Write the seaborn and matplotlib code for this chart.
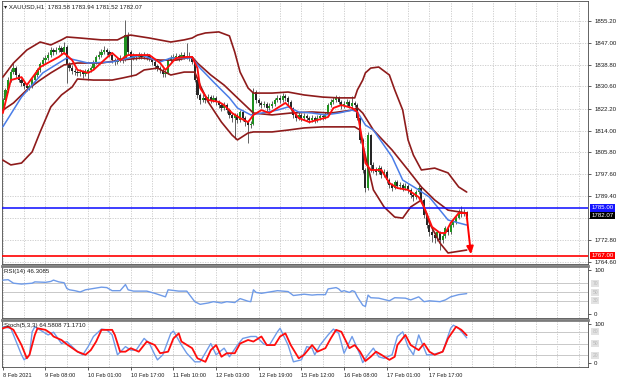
import numpy as np
import pandas as pd
import seaborn as sns
import matplotlib.pyplot as plt
import matplotlib.transforms as mtransforms

# XAUUSD H1 candles (bar 0 = 8 Feb 2021 afternoon)
opens = [1822.0, 1825.5, 1829.3, 1833.0, 1836.0, 1837.5, 1834.9, 1833.0, 1831.9, 1830.8,
         1830.0, 1830.8, 1833.0, 1834.9, 1836.8, 1839.0, 1840.5, 1841.3, 1842.4, 1844.3,
         1843.5, 1844.3, 1845.0, 1843.5, 1845.4, 1838.7, 1837.5, 1836.3, 1836.0, 1835.7,
         1836.0, 1835.3, 1836.0, 1836.8, 1837.5, 1839.8, 1841.7, 1842.4, 1843.5, 1844.3,
         1843.5, 1842.4, 1840.5, 1839.8, 1840.5, 1841.3, 1840.5, 1849.9, 1843.5, 1841.3,
         1842.0, 1841.7, 1842.4, 1841.7, 1842.4, 1842.0, 1841.3, 1839.8, 1838.3, 1837.5,
         1836.8, 1835.3, 1835.7, 1840.5, 1841.3, 1841.7, 1842.0, 1841.3, 1842.4, 1841.7,
         1842.0, 1841.3, 1839.8, 1833.0, 1827.4, 1825.5, 1826.3, 1825.5, 1826.6, 1825.5,
         1826.3, 1824.8, 1823.6, 1822.5, 1823.6, 1821.7, 1819.9, 1818.7, 1819.9, 1818.0,
         1821.0, 1818.7, 1817.2, 1816.1, 1816.5, 1828.5, 1825.5, 1824.4, 1823.6, 1824.0,
         1822.5, 1823.2, 1824.0, 1825.5, 1826.3, 1825.5, 1827.0, 1826.3, 1824.8, 1822.5,
         1819.9, 1818.7, 1819.9, 1818.7, 1819.5, 1818.7, 1818.0, 1818.7, 1818.0, 1818.7,
         1819.5, 1819.1, 1819.9, 1823.6, 1824.8, 1825.5, 1826.3, 1824.8, 1823.2, 1824.0,
         1824.8, 1823.2, 1824.4, 1823.6, 1818.7, 1810.5, 1799.2, 1792.4, 1812.3, 1801.1,
         1799.2, 1798.4, 1799.9, 1797.3, 1798.4, 1795.4, 1793.5, 1792.4, 1794.7, 1793.2,
         1793.5, 1792.4, 1793.2, 1791.7, 1789.8, 1789.0, 1790.9, 1792.4, 1787.9, 1782.3,
         1778.5, 1775.9, 1774.7, 1773.6, 1775.9, 1772.9, 1774.4, 1777.4, 1775.9, 1778.5,
         1779.6, 1781.1, 1783.4, 1782.6, 1783.58]
highs = [1826.3, 1830.1, 1834.0, 1837.2, 1839.6, 1838.3, 1835.8, 1833.9, 1832.7, 1831.6,
         1831.7, 1833.8, 1835.9, 1837.6, 1839.9, 1841.6, 1842.5, 1843.5, 1845.5, 1845.2,
         1845.6, 1846.2, 1845.8, 1847.4, 1846.0, 1839.8, 1838.6, 1837.4, 1836.9, 1837.1,
         1836.8, 1837.0, 1837.7, 1838.4, 1840.6, 1842.6, 1843.8, 1844.6, 1845.7, 1845.1,
         1844.2, 1842.9, 1841.4, 1841.4, 1842.3, 1842.0, 1855.5, 1851.0, 1844.4, 1843.0,
         1842.9, 1843.6, 1843.3, 1843.5, 1843.2, 1842.8, 1842.0, 1840.5, 1839.2, 1838.4,
         1837.5, 1836.8, 1841.2, 1842.4, 1842.9, 1843.3, 1842.9, 1843.6, 1843.4, 1846.9,
         1843.4, 1842.1, 1840.3, 1833.6, 1828.3, 1827.6, 1827.3, 1827.8, 1827.4, 1827.5,
         1826.9, 1825.5, 1824.4, 1824.6, 1824.3, 1822.4, 1820.6, 1820.8, 1820.7, 1821.9,
         1821.6, 1819.5, 1818.0, 1817.6, 1830.0, 1829.2, 1826.4, 1825.3, 1825.1, 1824.8,
         1824.3, 1825.0, 1826.4, 1827.5, 1827.2, 1828.3, 1827.9, 1826.9, 1825.4, 1823.0,
         1820.8, 1820.9, 1820.6, 1820.5, 1820.3, 1819.6, 1819.7, 1819.4, 1819.8, 1820.4,
         1820.2, 1820.9, 1824.5, 1826.0, 1826.7, 1827.3, 1826.9, 1825.4, 1825.1, 1825.9,
         1825.4, 1826.9, 1825.3, 1824.2, 1819.3, 1811.3, 1800.0, 1813.6, 1812.9, 1802.3,
         1800.5, 1801.0, 1800.6, 1799.5, 1799.0, 1796.2, 1794.3, 1795.6, 1795.5, 1794.6,
         1794.2, 1794.3, 1793.9, 1792.5, 1790.7, 1791.8, 1793.6, 1793.0, 1788.5, 1783.1,
         1779.4, 1777.0, 1775.8, 1776.8, 1776.4, 1775.4, 1778.3, 1778.0, 1779.4, 1780.7,
         1782.3, 1784.5, 1785.5, 1784.6, 1783.94]
lows = [1821.2, 1825.0, 1828.6, 1832.1, 1835.2, 1833.8, 1832.2, 1830.8, 1829.6, 1829.0,
        1829.3, 1830.2, 1832.4, 1834.1, 1836.0, 1838.2, 1839.6, 1840.4, 1841.8, 1842.6,
        1842.8, 1843.4, 1842.7, 1842.9, 1832.0, 1836.4, 1835.4, 1834.9, 1834.5, 1834.6,
        1833.9, 1834.6, 1832.9, 1835.9, 1837.0, 1839.1, 1841.0, 1841.6, 1842.7, 1842.6,
        1841.5, 1839.6, 1838.8, 1839.0, 1839.8, 1839.5, 1840.0, 1842.6, 1834.1, 1840.4,
        1840.6, 1840.9, 1840.8, 1840.9, 1840.7, 1840.2, 1838.8, 1837.2, 1836.5, 1835.7,
        1834.3, 1834.2, 1835.2, 1839.8, 1840.6, 1840.9, 1840.2, 1840.7, 1840.8, 1841.0,
        1840.3, 1838.9, 1832.2, 1826.3, 1824.0, 1824.7, 1824.4, 1824.8, 1824.5, 1824.6,
        1823.7, 1822.6, 1821.3, 1821.8, 1820.6, 1818.7, 1817.4, 1811.0, 1816.9, 1817.3,
        1817.6, 1815.9, 1809.5, 1815.0, 1816.0, 1824.4, 1823.3, 1822.4, 1822.7, 1821.3,
        1821.6, 1822.4, 1823.3, 1824.7, 1824.4, 1824.9, 1825.2, 1823.8, 1821.5, 1818.6,
        1817.5, 1818.0, 1817.6, 1817.8, 1817.6, 1816.8, 1817.1, 1816.9, 1817.2, 1817.9,
        1818.1, 1818.3, 1819.4, 1823.0, 1824.0, 1824.8, 1823.9, 1822.3, 1822.5, 1823.2,
        1822.4, 1822.6, 1822.8, 1817.8, 1809.3, 1798.0, 1791.0, 1791.8, 1798.4, 1798.0,
        1797.2, 1797.5, 1796.3, 1796.5, 1794.3, 1792.4, 1791.2, 1791.9, 1792.3, 1792.2,
        1791.3, 1791.5, 1790.6, 1788.7, 1787.6, 1788.3, 1790.2, 1786.8, 1781.0, 1777.2,
        1774.4, 1772.2, 1771.6, 1772.5, 1769.1, 1771.6, 1773.8, 1774.8, 1775.3, 1777.8,
        1778.9, 1780.6, 1781.7, 1781.9, 1781.52]
closes = [1825.5, 1829.3, 1833.0, 1836.0, 1837.5, 1834.9, 1833.0, 1831.9, 1830.8, 1830.0,
          1830.8, 1833.0, 1834.9, 1836.8, 1839.0, 1840.5, 1841.3, 1842.4, 1844.3, 1843.5,
          1844.3, 1845.0, 1843.5, 1845.4, 1838.7, 1837.5, 1836.3, 1836.0, 1835.7, 1836.0,
          1835.3, 1836.0, 1836.8, 1837.5, 1839.8, 1841.7, 1842.4, 1843.5, 1844.3, 1843.5,
          1842.4, 1840.5, 1839.8, 1840.5, 1841.3, 1840.5, 1849.9, 1843.5, 1841.3, 1842.0,
          1841.7, 1842.4, 1841.7, 1842.4, 1842.0, 1841.3, 1839.8, 1838.3, 1837.5, 1836.8,
          1835.3, 1835.7, 1840.5, 1841.3, 1841.7, 1842.0, 1841.3, 1842.4, 1841.7, 1842.0,
          1841.3, 1839.8, 1833.0, 1827.4, 1825.5, 1826.3, 1825.5, 1826.6, 1825.5, 1826.3,
          1824.8, 1823.6, 1822.5, 1823.6, 1821.7, 1819.9, 1818.7, 1819.9, 1818.0, 1821.0,
          1818.7, 1817.2, 1816.1, 1816.5, 1828.5, 1825.5, 1824.4, 1823.6, 1824.0, 1822.5,
          1823.2, 1824.0, 1825.5, 1826.3, 1825.5, 1827.0, 1826.3, 1824.8, 1822.5, 1819.9,
          1818.7, 1819.9, 1818.7, 1819.5, 1818.7, 1818.0, 1818.7, 1818.0, 1818.7, 1819.5,
          1819.1, 1819.9, 1823.6, 1824.8, 1825.5, 1826.3, 1824.8, 1823.2, 1824.0, 1824.8,
          1823.2, 1824.4, 1823.6, 1818.7, 1810.5, 1799.2, 1792.4, 1812.3, 1801.1, 1799.2,
          1798.4, 1799.9, 1797.3, 1798.4, 1795.4, 1793.5, 1792.4, 1794.7, 1793.2, 1793.5,
          1792.4, 1793.2, 1791.7, 1789.8, 1789.0, 1790.9, 1792.4, 1787.9, 1782.3, 1778.5,
          1775.9, 1774.7, 1773.6, 1775.9, 1772.9, 1774.4, 1777.4, 1775.9, 1778.5, 1779.6,
          1781.1, 1783.4, 1782.6, 1783.58, 1782.07]

# Bollinger bands (dark red), read at the bars where they bend
bb_up_bar = [0, 4, 9, 14, 18, 22, 24, 29, 37, 43, 46, 48, 55, 63, 68, 71, 73, 76, 81, 85,
             87, 89, 92, 94, 101, 107, 113, 120, 126, 132, 133, 135, 136, 138, 141, 145, 147,
             150, 152, 154, 157, 162, 167, 171, 174]
bb_up = [1834.1, 1839.4, 1844.3, 1847.3, 1846.2, 1848.1, 1849.2, 1848.8, 1848.1, 1848.1,
         1849.6, 1849.9, 1848.8, 1847.3, 1848.1, 1848.8, 1849.9, 1850.7, 1851.1, 1849.6,
         1843.5, 1836.0, 1830.0, 1828.1, 1828.1, 1828.5, 1827.4, 1826.6, 1826.3, 1826.3,
         1829.3, 1833.0, 1835.7, 1837.5, 1837.9, 1834.9, 1829.3, 1821.7, 1810.5, 1804.8,
         1799.2, 1799.9, 1798.1, 1792.8, 1790.9]
bb_mid_bar = [0, 4, 9, 14, 18, 23, 28, 37, 44, 52, 59, 65, 71, 73, 78, 83, 88, 92, 94, 101,
              108, 116, 123, 131, 133, 135, 139, 146, 152, 157, 162, 167, 174]
bb_mid = [1821.7, 1824.4, 1829.3, 1833.0, 1835.7, 1838.7, 1839.4, 1839.4, 1840.5, 1841.3,
          1840.5, 1840.5, 1841.7, 1839.4, 1834.9, 1831.1, 1826.3, 1822.5, 1820.6, 1819.9,
          1820.6, 1821.0, 1820.6, 1821.7, 1822.5, 1820.6, 1814.2, 1806.7, 1799.2, 1792.8,
          1787.9, 1784.1, 1783.0]
bb_lo_bar = [0, 3, 7, 11, 14, 18, 22, 26, 28, 34, 41, 45, 50, 53, 58, 63, 68, 72, 74, 77,
             82, 86, 88, 92, 94, 101, 107, 113, 120, 126, 132, 134, 135, 137, 139, 143, 147,
             150, 153, 157, 160, 164, 167, 174]
bb_lo = [1802.9, 1801.1, 1801.8, 1806.0, 1813.5, 1822.9, 1827.4, 1830.4, 1833.4, 1833.0,
         1833.0, 1833.8, 1834.9, 1836.8, 1837.5, 1834.9, 1836.0, 1836.0, 1831.1, 1824.8,
         1817.2, 1812.3, 1810.5, 1813.1, 1813.5, 1813.5, 1814.2, 1815.0, 1815.4, 1815.4,
         1815.4, 1814.2, 1808.6, 1800.3, 1791.7, 1785.3, 1781.5, 1781.1, 1785.3, 1787.9,
         1779.3, 1771.7, 1768.0, 1769.1]

# moving averages
ma_slow_bar = [0, 7, 15, 24, 32, 41, 52, 59, 63, 71, 74, 79, 85, 88, 93, 97, 103, 107, 111,
               116, 121, 126, 131, 133, 136, 139, 146, 150, 156, 160, 167, 171, 174]
ma_slow = [1815.4, 1826.6, 1835.7, 1841.3, 1839.4, 1839.8, 1842.4, 1839.8, 1841.3, 1841.3,
           1837.5, 1832.3, 1826.3, 1822.5, 1819.9, 1820.6, 1821.7, 1822.9, 1821.0, 1820.6,
           1819.9, 1820.6, 1821.7, 1821.0, 1816.1, 1814.2, 1804.1, 1795.4, 1791.7, 1789.0,
           1780.4, 1779.3, 1778.5]
ma_fast_bar = [0, 3, 7, 9, 14, 21, 23, 26, 28, 32, 34, 38, 41, 44, 47, 49, 55, 59, 61, 65,
               69, 71, 73, 74, 77, 81, 83, 86, 89, 92, 94, 97, 100, 103, 106, 108, 111, 115,
               118, 122, 124, 127, 131, 133, 135, 136, 138, 142, 145, 148, 152, 156, 158,
               161, 164, 166, 168, 171, 174]
ma_fast = [1820.6, 1833.0, 1834.1, 1831.1, 1837.9, 1841.7, 1843.2, 1840.5, 1836.8, 1835.7,
           1836.8, 1840.5, 1843.2, 1840.5, 1842.4, 1842.4, 1842.4, 1839.4, 1836.8, 1841.3,
           1841.7, 1841.7, 1837.5, 1830.0, 1825.5, 1824.8, 1823.6, 1820.6, 1818.7, 1817.2,
           1819.9, 1821.7, 1820.6, 1822.5, 1824.4, 1822.5, 1818.7, 1817.2, 1818.0, 1819.1,
           1822.5, 1823.6, 1822.5, 1821.0, 1809.3, 1801.8, 1799.2, 1799.2, 1794.3, 1792.4,
           1791.7, 1789.0, 1785.3, 1777.8, 1775.5, 1775.5, 1779.3, 1783.0, 1783.0]

# RSI(14)
rsi_bar = [0, 2, 4, 7, 11, 12, 16, 18, 19, 21, 23, 24, 25, 27, 29, 31, 34, 37, 39, 41,
           44, 46, 47, 49, 54, 57, 61, 62, 66, 69, 72, 74, 77, 79, 82, 84, 87, 89, 92, 93,
           94, 95, 97, 99, 103, 107, 109, 113, 116, 118, 121, 122, 125, 126, 127, 128, 130,
           131, 132, 133, 135, 136, 137, 138, 141, 145, 147, 151, 153, 156, 158, 160, 162,
           164, 166, 168, 171, 174]
rsi = [77, 78, 70, 68, 70, 73, 72, 74, 77, 73, 71, 58, 55, 53, 50, 55, 58, 61, 60, 53,
       53, 67, 55, 52, 52, 47, 39, 55, 52, 52, 28, 22, 25, 28, 25, 28, 26, 35, 29, 28,
       55, 49, 47, 49, 53, 51, 42, 45, 43, 44, 44, 57, 60, 57, 51, 53, 49, 53, 51, 39,
       20, 17, 43, 37, 36, 30, 37, 36, 32, 39, 28, 30, 29, 28, 32, 39, 44, 46.31]

# Stochastic(5,3,3): %K main, %D signal
st_k_bar = [0, 3, 5, 7, 8, 10, 11, 12, 17, 19, 22, 24, 28, 30, 32, 34, 37, 39, 41, 43,
            46, 48, 50, 53, 55, 57, 58, 60, 63, 64, 67, 69, 72, 74, 77, 78, 80, 83, 85, 88,
            90, 93, 95, 98, 100, 103, 104, 107, 109, 112, 114, 116, 117, 119, 122, 124, 126,
            128, 131, 134, 135, 137, 139, 141, 143, 146, 148, 150, 152, 154, 156, 159, 161,
            165, 168, 169, 171, 174]
st_k = [93, 89, 55, 21, 8, 21, 80, 93, 72, 79, 50, 55, 29, 21, 42, 68, 87, 85, 72, 21,
        42, 33, 33, 63, 50, 21, 8, 21, 76, 82, 46, 25, 3, 3, 38, 50, 21, 38, 16, 46,
        63, 68, 68, 48, 46, 80, 89, 46, 3, 8, 42, 38, 21, 46, 72, 87, 76, 25, 68, 21,
        1, 21, 38, 16, 12, 21, 68, 80, 42, 21, 72, 21, 21, 29, 89, 97, 89, 64.58]
st_d_bar = [0, 2, 4, 7, 9, 10, 12, 13, 16, 18, 19, 22, 24, 28, 31, 33, 35, 37, 41, 42,
            44, 46, 48, 51, 54, 57, 59, 62, 64, 66, 67, 71, 73, 76, 78, 80, 82, 84, 87, 89,
            92, 94, 97, 99, 102, 104, 106, 108, 111, 113, 116, 118, 121, 123, 125, 127, 130,
            132, 134, 136, 138, 140, 142, 145, 147, 148, 151, 153, 156, 158, 160, 162, 165,
            167, 170, 172, 174]
st_d = [89, 93, 85, 46, 12, 21, 72, 89, 85, 76, 68, 59, 48, 29, 21, 33, 55, 85, 85, 72,
        29, 29, 38, 29, 55, 46, 25, 29, 63, 76, 55, 38, 12, 3, 33, 46, 16, 25, 25, 50,
        59, 55, 68, 46, 46, 68, 76, 46, 12, 21, 46, 29, 38, 63, 85, 80, 38, 46, 29, 5,
        16, 29, 21, 8, 16, 46, 72, 46, 33, 50, 29, 21, 29, 63, 93, 85, 71.17]

price_ticks = [1764.6, 1772.8, 1781.1, 1789.4, 1797.6, 1805.8, 1814.0, 1822.2, 1830.6,
               1838.8, 1847.0, 1855.2]
price_labels = ['1764.60', '1772.80', '', '1789.40', '1797.60', '1805.80', '1814.00',
                '1822.20', '1830.60', '1838.80', '1847.00', '1855.20']
time_ticks = [0, 16, 32, 48, 64, 80, 96, 112, 128, 144, 160]
time_labels = ['8 Feb 2021', '9 Feb 08:00', '10 Feb 01:00', '10 Feb 17:00', '11 Feb 10:00',
               '12 Feb 03:00', '12 Feb 19:00', '15 Feb 12:00', '16 Feb 08:00',
               '17 Feb 01:00', '17 Feb 17:00']

sns.set_style('white')
plt.rcParams['font.family'] = ['Liberation Sans', 'DejaVu Sans']

W, H = 620, 383
fig = plt.figure(figsize=(6.2, 3.83), dpi=100)
ax = fig.add_axes([1.5 / W, 1 - 264 / H, 586.5 / W, 263 / H])
ax_rsi = fig.add_axes([1.5 / W, 1 - 318 / H, 586.5 / W, 52 / H])
ax_st = fig.add_axes([1.5 / W, 1 - 367 / H, 586.5 / W, 47 / H])

grid_kw = dict(color='#c9c9c9', lw=0.6, ls=(0, (1.5, 1.5)), zorder=0)
for a in (ax, ax_rsi, ax_st):
    a.set_xlim(-0.5, 219.5)
    for v in range(0, 220, 8):
        a.axvline(v, **grid_kw)
    for s in a.spines.values():
        s.set_color('#4a4a4a')
        s.set_linewidth(0.6)
    a.yaxis.tick_right()
    a.tick_params(axis='y', labelsize=4.4, length=2.5, width=0.5, pad=2,
                  colors='#1a1a1a', direction='out')
    a.tick_params(axis='x', bottom=False, labelbottom=False)
for a in (ax_rsi, ax_st):
    a.spines['top'].set_color('#7c7c7c')
    a.spines['top'].set_linewidth(2.0)

# ---- price panel ----
for p in price_ticks:
    ax.axhline(p, **grid_kw)

df = pd.DataFrame({'bar': np.arange(len(closes)), 'open': opens, 'high': highs,
                   'low': lows, 'close': closes})
rising = df['close'] >= df['open']
ax.vlines(df['bar'], df['low'], df['high'], color='#4a4a4a', lw=0.6, zorder=2)
body_lo = df[['open', 'close']].min(axis=1)
body_h = (df['close'] - df['open']).abs().clip(lower=0.25)
ax.bar(df['bar'], body_h, bottom=body_lo, width=0.8,
       color=np.where(rising, '#1f921f', '#262626'), edgecolor='none', zorder=3)

line_kw = dict(estimator=None, sort=False, legend=False)
for xs, ys in [(bb_up_bar, bb_up), (bb_mid_bar, bb_mid), (bb_lo_bar, bb_lo)]:
    sns.lineplot(x=xs, y=ys, ax=ax, color='#8e1b1b', linewidth=1.2, zorder=4, **line_kw)
sns.lineplot(x=ma_slow_bar, y=ma_slow, ax=ax, color='#4a7de8', linewidth=1.1, zorder=5, **line_kw)
sns.lineplot(x=ma_fast_bar, y=ma_fast, ax=ax, color='#ff0d0d', linewidth=1.35, zorder=6, **line_kw)

ax.axhline(1785.0, color='#0a0aff', lw=1.1, zorder=5)
ax.axhline(1767.0, color='#ff0000', lw=1.2, zorder=5)
ax.annotate('', xy=(175.6, 1767.5), xytext=(173.9, 1783.0),
            arrowprops=dict(arrowstyle='-|>,head_length=0.45,head_width=0.2',
                            color='#ff0000', lw=1.4, mutation_scale=10,
                            shrinkA=0, shrinkB=0), zorder=7)

ax.set_ylim(1763.85, 1862.72)
ax.set_yticks(price_ticks)
ax.set_yticklabels(price_labels)
ax.set_xlabel('')
ax.set_ylabel('')

blend = mtransforms.blended_transform_factory(ax.transAxes, ax.transData)
for val, txt, fc in [(1785.0, '1785.00', '#1414ff'), (1782.07, '1782.07', '#000000'),
                     (1767.0, '1767.00', '#ff0000')]:
    ax.text(1.0055, val, txt, transform=blend, fontsize=4.4, color='white', va='center',
            ha='left', clip_on=False, zorder=10,
            bbox=dict(boxstyle='square,pad=0.22', fc=fc, ec='none'))

fig.text(4 / W, 1 - 7 / H, '\u25be XAUUSD,H1  1783.58 1783.94 1781.52 1782.07',
         fontsize=4.4, color='#1a1a1a', va='center', ha='left')

# ---- RSI panel ----
for lvl in (70, 50, 30):
    ax_rsi.axhline(lvl, color='#c8c8c8', lw=0.7, zorder=0)
sns.lineplot(x=rsi_bar, y=rsi, ax=ax_rsi, color='#6f9be8', linewidth=1.0, zorder=4, **line_kw)
ax_rsi.set_ylim(-9.1, 109.1)
ax_rsi.set_yticks([0, 100])
ax_rsi.set_yticklabels(['0', '100'])
ax_rsi.set_xlabel('')
ax_rsi.set_ylabel('')
blend_r = mtransforms.blended_transform_factory(ax_rsi.transAxes, ax_rsi.transData)
for lvl in (70, 50, 30):
    ax_rsi.text(1.0075, lvl, str(lvl), transform=blend_r, fontsize=3.6, color='#b9b9b9',
                va='center', ha='left', clip_on=False,
                bbox=dict(boxstyle='square,pad=0.2', fc='#e2e2e2', ec='none'))
fig.text(4 / W, 1 - 271.5 / H, 'RSI(14) 46.3085', fontsize=4.4, color='#1a1a1a',
         va='center', ha='left')

# ---- Stochastic panel ----
for lvl in (80, 50, 20):
    ax_st.axhline(lvl, color='#c8c8c8', lw=0.7, zorder=0)
sns.lineplot(x=st_k_bar, y=st_k, ax=ax_st, color='#6f9be8', linewidth=1.0, zorder=4, **line_kw)
sns.lineplot(x=st_d_bar, y=st_d, ax=ax_st, color='#ff0d0d', linewidth=1.3, zorder=5, **line_kw)
ax_st.set_ylim(-10.3, 110.3)
ax_st.set_yticks([0, 100])
ax_st.set_yticklabels(['0', '100'])
ax_st.set_ylabel('')
blend_s = mtransforms.blended_transform_factory(ax_st.transAxes, ax_st.transData)
for lvl in (80, 50, 20):
    ax_st.text(1.0075, lvl, str(lvl), transform=blend_s, fontsize=3.6, color='#b9b9b9',
               va='center', ha='left', clip_on=False,
               bbox=dict(boxstyle='square,pad=0.2', fc='#e2e2e2', ec='none'))
fig.text(4 / W, 1 - 326 / H, 'Stoch(5,3,3) 64.5808 71.1710', fontsize=4.4,
         color='#1a1a1a', va='center', ha='left')

ax_st.set_xticks(time_ticks)
ax_st.set_xticklabels(time_labels)
ax_st.tick_params(axis='x', bottom=True, labelbottom=True, labelsize=4.1, length=2.5,
                  width=0.5, pad=1.5, colors='#1a1a1a')
for lbl in ax_st.get_xticklabels():
    lbl.set_ha('left')
ax_st.set_xlabel('')

fig.savefig('out.png', dpi=100)
